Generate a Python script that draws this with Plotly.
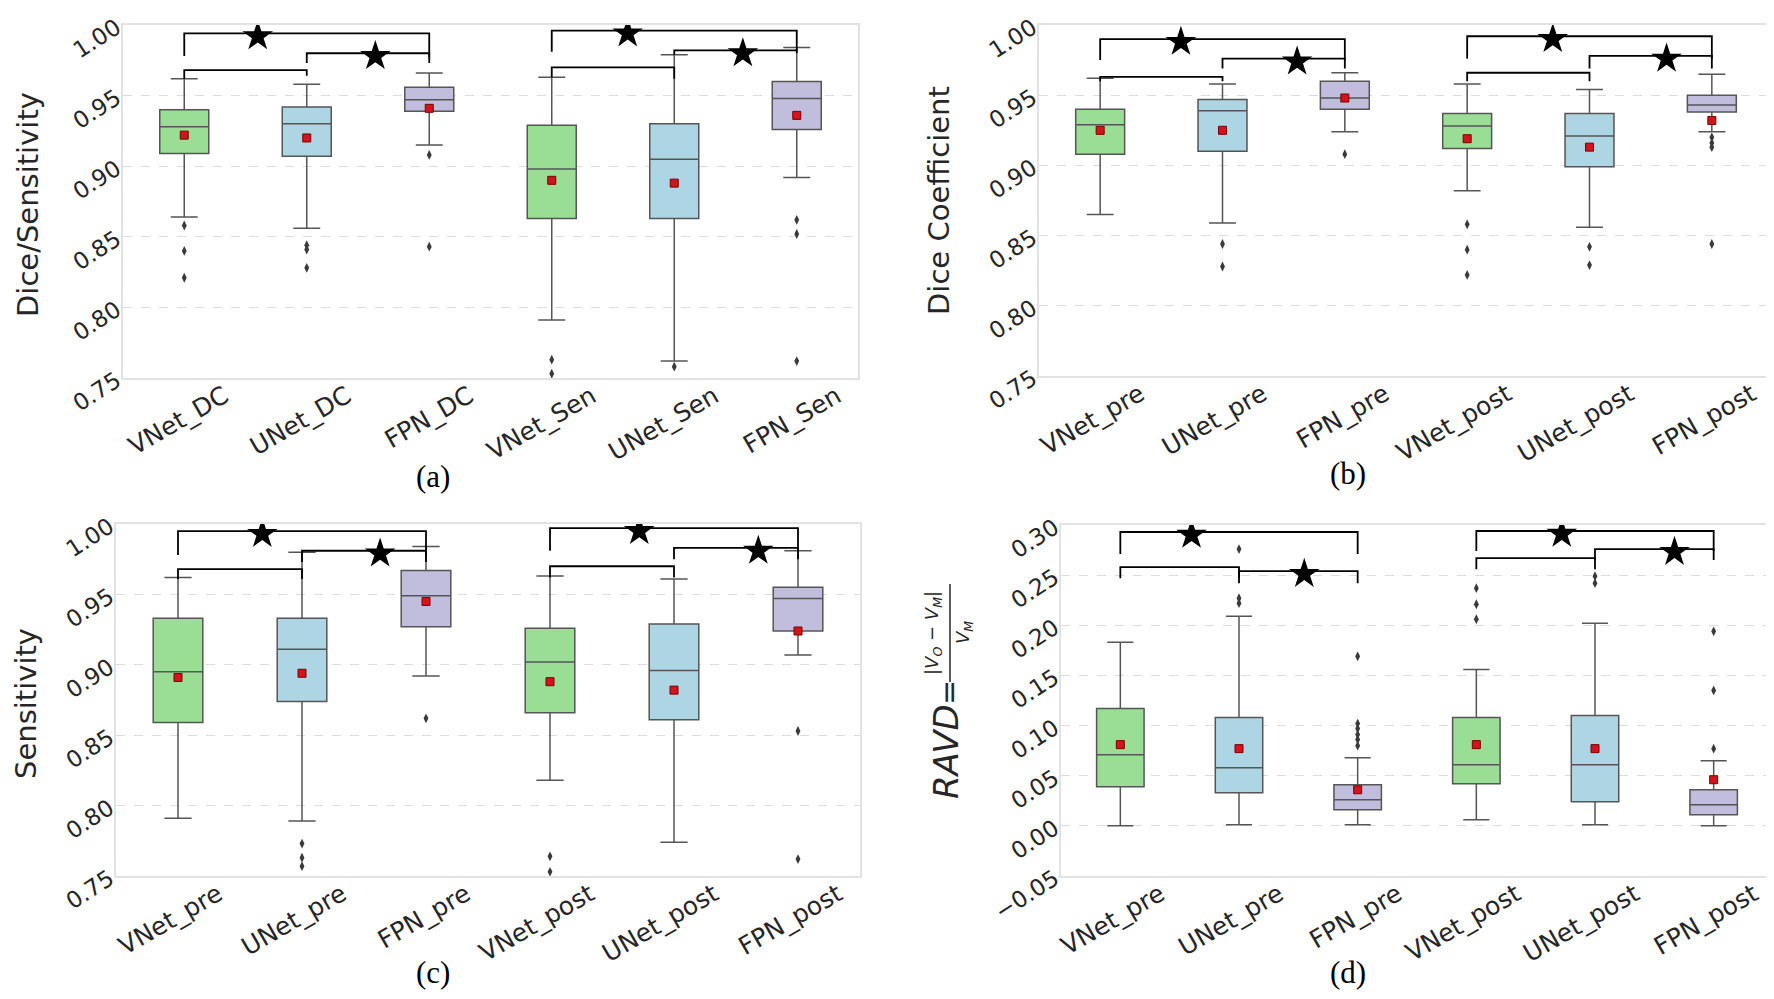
import plotly.graph_objects as go

# ---------------- data ----------------
CATS_A = ["VNet_DC", "UNet_DC", "FPN_DC", "VNet_Sen", "UNet_Sen", "FPN_Sen"]
CATS_B = ["VNet_pre", "UNet_pre", "FPN_pre", "VNet_post", "UNet_post", "FPN_post"]

# Panel (a)
A_LOW = [0.864, 0.856, 0.915, 0.791, 0.762, 0.892]
A_Q1 = [0.909, 0.907, 0.939, 0.863, 0.863, 0.926]
A_MED = [0.928, 0.930, 0.947, 0.898, 0.905, 0.948]
A_Q3 = [0.940, 0.942, 0.956, 0.929, 0.930, 0.960]
A_HIGH = [0.962, 0.958, 0.966, 0.963, 0.979, 0.984]
A_MEAN = [0.922, 0.920, 0.941, 0.890, 0.888, 0.936]
A_OUT = [[0.858, 0.840, 0.821], [0.844, 0.841, 0.828], [0.908, 0.843],
         [0.763, 0.753], [0.758], [0.862, 0.852, 0.762]]
# (left idx, right idx, bar height, left leg end, right leg end, star position fraction)
A_SIG = [(0, 2, 0.994, 0.978, 0.977, 0.30), (1, 2, 0.980, 0.973, 0.973, 0.56),
         (0, 1, 0.968, 0.962, 0.964, None), (3, 5, 0.996, 0.981, 0.982, 0.31),
         (4, 5, 0.982, 0.979, 0.980, 0.56), (3, 4, 0.970, 0.963, 0.962, None)]

# Panel (b)
B_LOW = [0.865, 0.859, 0.924, 0.882, 0.856, 0.924]
B_Q1 = [0.908, 0.910, 0.940, 0.912, 0.899, 0.938]
B_MED = [0.929, 0.939, 0.948, 0.928, 0.921, 0.943]
B_Q3 = [0.940, 0.947, 0.960, 0.937, 0.937, 0.950]
B_HIGH = [0.962, 0.958, 0.966, 0.958, 0.954, 0.965]
B_MEAN = [0.925, 0.925, 0.948, 0.919, 0.913, 0.932]
B_OUT = [[], [0.844, 0.828], [0.908], [0.858, 0.840, 0.822], [0.842, 0.829],
         [0.920, 0.916, 0.913, 0.844]]
B_SIG = [(0, 2, 0.990, 0.975, 0.975, 0.33), (1, 2, 0.976, 0.969, 0.969, 0.61),
         (0, 1, 0.963, 0.960, 0.960, None), (3, 5, 0.992, 0.976, 0.976, 0.35),
         (4, 5, 0.978, 0.969, 0.969, 0.63), (3, 4, 0.966, 0.960, 0.960, None)]

# Panel (c)
C_LOW = [0.791, 0.789, 0.892, 0.818, 0.774, 0.907]
C_Q1 = [0.859, 0.874, 0.927, 0.866, 0.861, 0.924]
C_MED = [0.895, 0.911, 0.949, 0.902, 0.896, 0.947]
C_Q3 = [0.933, 0.933, 0.967, 0.926, 0.929, 0.955]
C_HIGH = [0.962, 0.980, 0.984, 0.963, 0.961, 0.981]
C_MEAN = [0.891, 0.894, 0.945, 0.888, 0.882, 0.924]
C_OUT = [[], [0.773, 0.763, 0.757], [0.862], [0.764, 0.753], [], [0.853, 0.762]]
C_SIG = [(0, 2, 0.995, 0.978, 0.978, 0.34), (1, 2, 0.981, 0.973, 0.973, 0.63),
         (0, 1, 0.968, 0.961, 0.961, None), (3, 5, 0.997, 0.981, 0.981, 0.36),
         (4, 5, 0.983, 0.975, 0.975, 0.68), (3, 4, 0.970, 0.962, 0.962, None)]

# Panel (d)
D_LOW = [0.000, 0.001, 0.001, 0.006, 0.001, 0.000]
D_Q1 = [0.039, 0.033, 0.016, 0.042, 0.024, 0.011]
D_MED = [0.071, 0.058, 0.026, 0.061, 0.061, 0.021]
D_Q3 = [0.117, 0.108, 0.041, 0.108, 0.110, 0.036]
D_HIGH = [0.183, 0.209, 0.068, 0.156, 0.202, 0.065]
D_MEAN = [0.081, 0.077, 0.036, 0.081, 0.077, 0.046]
D_OUT = [[], [0.276, 0.227, 0.222], [0.169, 0.102, 0.097, 0.091, 0.086, 0.080],
         [0.237, 0.221, 0.206], [0.249, 0.242], [0.194, 0.135, 0.077]]
D_SIG = [(0, 2, 0.293, 0.271, 0.271, 0.30), (0, 1, 0.258, 0.247, 0.247, None),
         (1, 2, 0.254, 0.242, 0.242, 0.55), (3, 5, 0.294, 0.274, 0.274, 0.36),
         (3, 4, 0.267, 0.256, 0.256, None), (4, 5, 0.276, 0.265, 0.265, 0.67)]

Y_RANGE_ABC = [0.75, 1.00]
Y_RANGE_D = [-0.05, 0.30]

# ---------------- style ----------------
BOX_COLORS = ["#9ade96", "#aed5e3", "#c1bddc", "#9ade96", "#aed5e3", "#c1bddc"]
EDGE = "#555555"
TXT = "#262626"
FONT = "DejaVu Sans"
W, H = 1774, 999

panels = [
    dict(cats=CATS_A, low=A_LOW, q1=A_Q1, med=A_MED, q3=A_Q3, high=A_HIGH, mean=A_MEAN,
         out=A_OUT, sig=A_SIG, yr=Y_RANGE_ABC, px=(115, 850), py=(17, 370)),
    dict(cats=CATS_B, low=B_LOW, q1=B_Q1, med=B_MED, q3=B_Q3, high=B_HIGH, mean=B_MEAN,
         out=B_OUT, sig=B_SIG, yr=Y_RANGE_ABC, px=(1031, 1765), py=(17, 368)),
    dict(cats=CATS_B, low=C_LOW, q1=C_Q1, med=C_MED, q3=C_Q3, high=C_HIGH, mean=C_MEAN,
         out=C_OUT, sig=C_SIG, yr=Y_RANGE_ABC, px=(108, 852), py=(516, 868)),
    dict(cats=CATS_B, low=D_LOW, q1=D_Q1, med=D_MED, q3=D_Q3, high=D_HIGH, mean=D_MEAN,
         out=D_OUT, sig=D_SIG, yr=Y_RANGE_D, px=(1053, 1765), py=(517, 868)),
]

fig = go.Figure()
layout = {}
for k, p in enumerate(panels):
    sfx = "" if k == 0 else str(k + 1)
    xa, ya = "x" + sfx, "y" + sfx
    n = len(p["cats"])
    pos = list(range(n))
    for i in pos:
        fig.add_trace(go.Box(
            x=[i], q1=[p["q1"][i]], median=[p["med"][i]], q3=[p["q3"][i]],
            lowerfence=[p["low"][i]], upperfence=[p["high"][i]],
            width=0.4, whiskerwidth=0.55, fillcolor=BOX_COLORS[i],
            line=dict(color=EDGE, width=1.5), boxpoints=False,
            xaxis=xa, yaxis=ya, showlegend=False, hoverinfo="skip"))
        if p["out"][i]:
            fig.add_trace(go.Scatter(
                x=[i] * len(p["out"][i]), y=p["out"][i], mode="markers",
                marker=dict(symbol="diamond-tall", size=7, color="#3a3a3a"),
                xaxis=xa, yaxis=ya, showlegend=False, hoverinfo="skip"))
    fig.add_trace(go.Scatter(
        x=pos, y=p["mean"], mode="markers",
        marker=dict(symbol="square", size=8, color="#d4141c",
                    line=dict(color="#7a0000", width=1)),
        xaxis=xa, yaxis=ya, showlegend=False, hoverinfo="skip"))
    span = p["yr"][1] - p["yr"][0]
    for (a, b, h, la, lb, frac) in p["sig"]:
        fig.add_trace(go.Scatter(
            x=[a, a, b, b], y=[la, h, h, lb], mode="lines",
            line=dict(color="black", width=1.8),
            xaxis=xa, yaxis=ya, showlegend=False, hoverinfo="skip"))
        if frac is not None:
            fig.add_trace(go.Scatter(
                x=[a + frac * (b - a)], y=[h - 0.008 * span], mode="markers",
                marker=dict(symbol="star", size=23, color="black"),
                xaxis=xa, yaxis=ya, showlegend=False, hoverinfo="skip"))

    x0, x1 = p["px"]
    y0, y1 = p["py"]
    layout["xaxis" + sfx] = dict(
        domain=[x0 / W, x1 / W], anchor=ya, range=[-0.5, n - 0.5], automargin=False,
        tickvals=pos, ticktext=p["cats"], tickangle=-30, ticklabelshift=40,
        ticklabelstandoff=-8,
        tickfont=dict(family=FONT, size=25, color=TXT), showgrid=False,
        zeroline=False, showline=True, mirror=True, linecolor="#e2e2e2", linewidth=2,
        ticks="")
    layout["yaxis" + sfx] = dict(
        domain=[1 - y1 / H, 1 - y0 / H], anchor=xa, range=p["yr"], dtick=0.05,
        tick0=0, tickformat=".2f", tickangle=-33, automargin=False,
        tickfont=dict(family=FONT, size=23, color=TXT), showgrid=True,
        gridcolor="#dcdcdc", griddash="dash", gridwidth=1.2, zeroline=False,
        showline=True, mirror=True, linecolor="#e2e2e2", linewidth=2, ticks="")

ann = []
def ytitle(text, xp, yp, size=29):
    ann.append(dict(text=text, x=xp / W, y=1 - yp / H, xref="paper", yref="paper",
                    textangle=-90, showarrow=False, xanchor="center", yanchor="middle",
                    font=dict(family=FONT, size=size, color=TXT)))

ytitle("Dice/Sensitivity", 20, 197)
ytitle("Dice Coefficient", 931, 192)
ytitle("Sensitivity", 18, 696)
ytitle("<i>RAVD</i>", 938, 743, 34)
ytitle("=", 940, 685, 30)
ytitle("|<i>V<sub>O</sub></i> − <i>V<sub>M</sub></i>|", 925, 625, 18)
ytitle("<i>V<sub>M</sub></i>", 956, 625, 18)

for lab, xp, yp in [("(a)", 425, 468), ("(b)", 1340, 466), ("(c)", 425, 964), ("(d)", 1340, 964)]:
    ann.append(dict(text=lab, x=xp / W, y=1 - yp / H, xref="paper", yref="paper",
                    showarrow=False, xanchor="center", yanchor="middle",
                    font=dict(family="Liberation Serif", size=31, color="black")))

shapes = [dict(type="line", xref="paper", yref="paper", x0=942 / W, x1=942 / W,
               y0=1 - 576 / H, y1=1 - 674 / H, line=dict(color=TXT, width=1.5))]

fig.update_layout(width=W, height=H, margin=dict(l=0, r=0, t=0, b=0),
                  paper_bgcolor="white", plot_bgcolor="white",
                  annotations=ann, shapes=shapes, **layout)

fig.write_html("out.html")
